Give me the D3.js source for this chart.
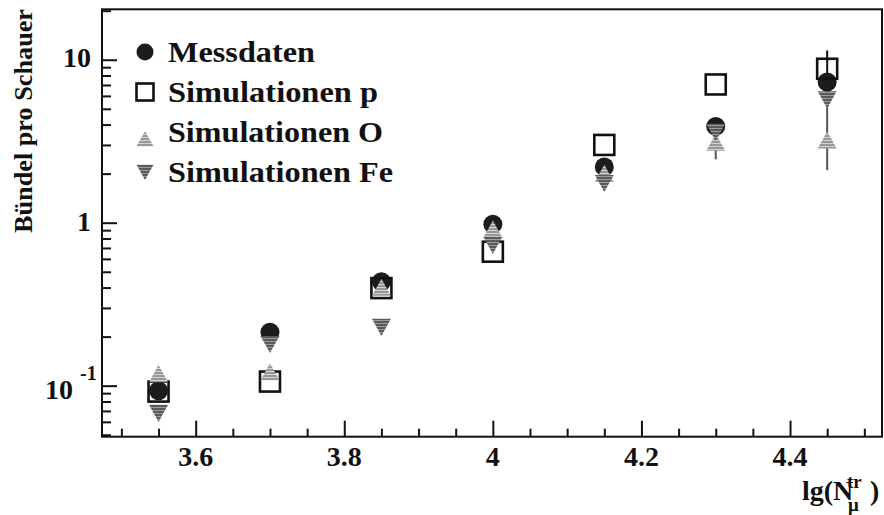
<!DOCTYPE html>
<html>
<head>
<meta charset="utf-8">
<script src="https://cdn.jsdelivr.net/npm/d3@7"></script>
<style>
  html, body { margin: 0; padding: 0; background: #fff; }
  svg { display: block; }
</style>
</head>
<body>
<svg id="chart" width="884" height="515"></svg>
<script>
// Shower multiplicity bins, lg of truncated muon number
const lgN = [3.55, 3.7, 3.85, 4.0, 4.15, 4.3, 4.45];

// Bundles per shower
const messdaten = [0.093, 0.213, 0.434, 0.98, 2.2, 3.9, 7.3];
const simP      = [0.092, 0.106, 0.397, 0.664, 3.0, 7.05, 8.8];
const simO      = [0.118, 0.121, 0.40, 0.91, 2.0, 3.1, 3.2];
const simFe     = [0.068, 0.18, 0.229, 0.73, 1.75, 3.6, 5.7];

// Error bars [low, high] where they stick out of the markers
const simPErr = [null, null, null, null, null, null, [6.2, 11.4]];
const simOErr = [null, null, null, null, null, [2.45, 3.9], [2.1, 5.4]];

const xMajor = [3.6, 3.8, 4.0, 4.2, 4.4];
const xMajorLabels = ["3.6", "3.8", "4", "4.2", "4.4"];
const xMinor = [3.5, 3.55, 3.65, 3.7, 3.75, 3.85, 3.9, 3.95, 4.05, 4.1, 4.15, 4.25, 4.3, 4.35, 4.45, 4.5];
const yMajor = [0.1, 1, 10];
const yMinor = [0.05, 0.06, 0.07, 0.08, 0.09, 0.2, 0.3, 0.4, 0.5, 0.6, 0.7, 0.8, 0.9,
                2, 3, 4, 5, 6, 7, 8, 9, 20];

const legendLabels = ["Messdaten", "Simulationen p", "Simulationen O", "Simulationen Fe"];

const svg = d3.select("#chart")
  .attr("font-family", "Liberation Serif, Tinos, Times New Roman, serif")
  .attr("font-weight", "bold");
const frame = { left: 102, right: 882, top: 9.3, bottom: 436.7 };
const ink = "#111";

const x = d3.scaleLinear().domain([3.4739, 4.5238]).range([frame.left, frame.right]);
const y = d3.scaleLog().domain([0.04864, 20.39]).range([frame.bottom, frame.top]);

// Stripe patterns for the triangle markers
const defs = svg.append("defs");
function stripes(id, c1, c2) {
  const p = defs.append("pattern").attr("id", id).attr("patternUnits", "userSpaceOnUse")
    .attr("width", 4).attr("height", 3);
  p.append("rect").attr("width", 4).attr("height", 3).attr("fill", c1);
  p.append("rect").attr("y", 2).attr("width", 4).attr("height", 1).attr("fill", c2);
}
stripes("stripeO", "#979797", "#d2d2d2");
stripes("stripeFe", "#5a5a5a", "#9c9c9c");

// Frame
svg.append("rect").attr("x", frame.left).attr("y", frame.top)
  .attr("width", frame.right - frame.left).attr("height", frame.bottom - frame.top)
  .attr("fill", "none").attr("stroke", ink).attr("stroke-width", 2);

// Axes with ticks pointing inwards
svg.append("g").attr("transform", `translate(0,${frame.bottom})`)
  .call(d3.axisBottom(x).tickValues(xMajor).tickSize(-16).tickFormat(""));
svg.append("g").attr("transform", `translate(0,${frame.bottom})`)
  .call(d3.axisBottom(x).tickValues(xMinor).tickSize(-8).tickFormat(""));
svg.append("g").attr("transform", `translate(${frame.left},0)`)
  .call(d3.axisLeft(y).tickValues(yMajor).tickSize(-15).tickFormat(""));
svg.append("g").attr("transform", `translate(${frame.left},0)`)
  .call(d3.axisLeft(y).tickValues(yMinor).tickSize(-9).tickFormat(""));
svg.selectAll(".domain").remove();
svg.selectAll(".tick line").attr("stroke", ink).attr("stroke-width", 2);

// X tick labels
svg.append("g").selectAll("text").data(xMajor).join("text")
  .attr("x", d => x(d)).attr("y", 466)
  .attr("text-anchor", "middle").attr("font-size", 28).attr("fill", ink)
  .text((d, i) => xMajorLabels[i]);

// Y tick labels
const yl = svg.append("g").attr("fill", ink);
yl.append("text").attr("x", 91).attr("y", y(10) + 7).attr("text-anchor", "end")
  .attr("font-size", 28).text("10");
yl.append("text").attr("x", 91).attr("y", y(1) + 8).attr("text-anchor", "end")
  .attr("font-size", 28).text("1");
yl.append("text").attr("x", 73).attr("y", y(0.1) + 13).attr("text-anchor", "end")
  .attr("font-size", 28).text("10");
yl.append("text").attr("x", 80).attr("y", y(0.1) - 6)
  .attr("font-size", 20).text("-1");

// Axis titles
svg.append("text").attr("transform", "translate(32,9) rotate(-90)")
  .attr("text-anchor", "end").attr("font-size", 26).attr("fill", ink)
  .attr("textLength", 224).attr("lengthAdjust", "spacingAndGlyphs")
  .text("Bündel pro Schauer");

// lg(N_mu^tr) with stacked super- and subscript
const xt = svg.append("text").attr("x", 802).attr("y", 500).attr("font-size", 28).attr("fill", ink);
xt.append("tspan").text("lg(N");
xt.append("tspan").attr("x", 847).attr("y", 488).attr("font-size", 19).text("tr");
xt.append("tspan").attr("x", 848).attr("y", 511).attr("font-size", 19).text("μ");
xt.append("tspan").attr("x", 870).attr("y", 500).text(")");

// Marker painters
const markers = {
  circle: (g, cx, cy, s) => g.append("circle").attr("cx", cx).attr("cy", cy).attr("r", s / 2)
    .attr("fill", "#1c1c1c"),
  square: (g, cx, cy, s) => g.append("rect").attr("x", cx - s / 2).attr("y", cy - s / 2)
    .attr("width", s).attr("height", s).attr("fill", "none")
    .attr("stroke", ink).attr("stroke-width", 2.6),
  up: (g, cx, cy, s) => g.append("path")
    .attr("d", `M${cx},${cy - s * 0.47}L${cx + s / 2},${cy + s * 0.43}L${cx - s / 2},${cy + s * 0.43}Z`)
    .attr("fill", "url(#stripeO)"),
  down: (g, cx, cy, s) => g.append("path")
    .attr("d", `M${cx},${cy + s * 0.47}L${cx + s / 2},${cy - s * 0.43}L${cx - s / 2},${cy - s * 0.43}Z`)
    .attr("fill", "url(#stripeFe)")
};

const series = [
  { values: messdaten, shape: "circle", size: 19, err: null },
  { values: simP, shape: "square", size: 20, err: simPErr },
  { values: simO, shape: "up", size: 19, err: simOErr },
  { values: simFe, shape: "down", size: 19, err: null }
];

const plot = svg.append("g");
// Error bars below the markers
series.forEach(s => {
  if (!s.err) return;
  s.err.forEach((e, i) => {
    if (!e) return;
    plot.append("line").attr("x1", x(lgN[i])).attr("x2", x(lgN[i]))
      .attr("y1", y(e[0])).attr("y2", y(e[1]))
      .attr("stroke", s.shape === "up" ? "#555" : ink).attr("stroke-width", 2);
  });
});
series.forEach(s => {
  s.values.forEach((v, i) => markers[s.shape](plot, x(lgN[i]), y(v), s.size));
});

// Legend
const legY = [52, 92, 139, 172];
const legBase = [62, 102, 142, 182];
const legLen = [147, 210, 215, 225];
series.forEach((s, i) => {
  markers[s.shape](svg, 145, legY[i], 17);
  svg.append("text").attr("x", 168).attr("y", legBase[i]).attr("font-size", 29).attr("fill", ink)
    .attr("textLength", legLen[i]).attr("lengthAdjust", "spacingAndGlyphs")
    .text(legendLabels[i]);
});
</script>
</body>
</html>
